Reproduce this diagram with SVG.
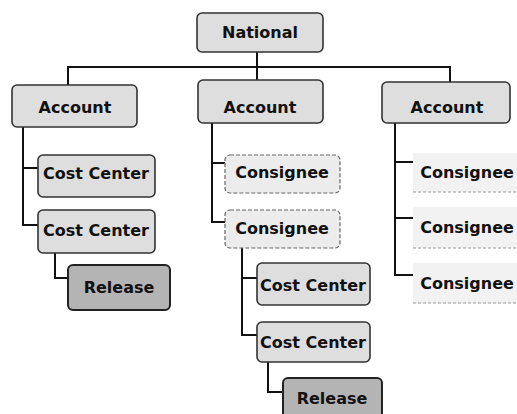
<svg xmlns="http://www.w3.org/2000/svg" width="517" height="414" viewBox="0 0 517 414">
<style>
.box{fill:#dedede;stroke:#333;stroke-width:1.6}
.rel{fill:#b4b4b4;stroke:#222;stroke-width:2}
.cons{fill:#ececec;stroke:#666;stroke-width:1.2;stroke-dasharray:4 2}
.light{fill:#f2f2f2;stroke:none}
.edge{fill:none;stroke:#999;stroke-width:1.2;stroke-dasharray:3 2}
.lbl{font-family:"DejaVu Sans","Liberation Sans",sans-serif;font-weight:bold;font-size:16px;fill:#111;text-anchor:middle}
.conn path{fill:none;stroke:#111;stroke-width:2}
</style>
<rect width="517" height="414" fill="#fff"/>
<g class="conn">
<path d="M257,52 V80"/>
<path d="M68,85 V67 H450 V82"/>
<path d="M23,127 V225 H38 M23,168 H38"/>
<path d="M55,253 V278 H68"/>
<path d="M212,123 V222 H225 M212,163 H225"/>
<path d="M242,248 V335 H257 M242,278 H257"/>
<path d="M268,362 V392 H283"/>
<path d="M395,123 V275 H413 M395,162 H413 M395,218 H413"/>
</g>
<g id="national"><rect class="box" x="197" y="13" width="126" height="39" rx="5"/><text class="lbl" x="260" y="38">National</text></g>
<g id="account1"><rect class="box" x="12" y="85" width="125" height="42" rx="5"/><text class="lbl" x="75" y="113">Account</text></g>
<g id="account2"><rect class="box" x="198" y="80" width="125" height="43" rx="5"/><text class="lbl" x="260" y="113">Account</text></g>
<g id="account3"><rect class="box" x="382" y="82" width="128" height="41" rx="5"/><text class="lbl" x="447" y="113">Account</text></g>
<g id="costcenter1"><rect class="box" x="38" y="155" width="117" height="42" rx="5"/><text class="lbl" x="96" y="179">Cost Center</text></g>
<g id="costcenter2"><rect class="box" x="38" y="210" width="117" height="43" rx="5"/><text class="lbl" x="96" y="236">Cost Center</text></g>
<g id="release1"><rect class="rel" x="68" y="265" width="102" height="45" rx="5"/><text class="lbl" x="119" y="293">Release</text></g>
<g id="consignee1"><rect class="cons" x="225" y="155" width="115" height="38" rx="5"/><text class="lbl" x="282" y="178">Consignee</text></g>
<g id="consignee2"><rect class="cons" x="225" y="210" width="115" height="38" rx="5"/><text class="lbl" x="282" y="234">Consignee</text></g>
<g id="costcenter3"><rect class="box" x="257" y="263" width="113" height="42" rx="5"/><text class="lbl" x="313" y="291">Cost Center</text></g>
<g id="costcenter4"><rect class="box" x="257" y="322" width="113" height="40" rx="5"/><text class="lbl" x="313" y="348">Cost Center</text></g>
<g id="release2"><rect class="rel" x="283" y="378" width="99" height="42" rx="5"/><text class="lbl" x="332" y="404">Release</text></g>
<g id="consignee3"><rect class="light" x="413" y="153" width="110" height="39"/><path class="edge" d="M413,192 H517"/><text class="lbl" x="467" y="178">Consignee</text></g>
<g id="consignee4"><rect class="light" x="413" y="207" width="110" height="41"/><path class="edge" d="M413,248 H517"/><text class="lbl" x="467" y="233">Consignee</text></g>
<g id="consignee5"><rect class="light" x="413" y="263" width="110" height="40"/><path class="edge" d="M413,303 H517"/><text class="lbl" x="467" y="289">Consignee</text></g>
</svg>
